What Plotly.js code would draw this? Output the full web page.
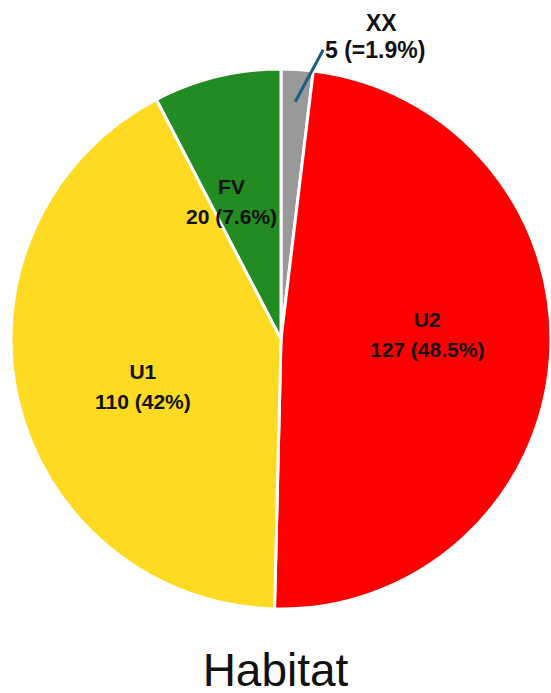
<!DOCTYPE html>
<html>
<head>
<meta charset="utf-8">
<script src="https://cdn.plot.ly/plotly-3.0.1.min.js"></script>
<style>html,body{margin:0;padding:0;background:#fff;}</style>
</head>
<body>
<div id="chart" style="width:551px;height:693px;"></div>
<script>
const categories = ['XX', 'U2', 'U1', 'FV'];
const counts = [5, 127, 110, 20];
const percentLabels = ['=1.9%', '48.5%', '42%', '7.6%'];
const sliceColors = ['#999999', '#FF0000', '#FEDA22', '#228B22'];
const chartTitle = 'Habitat';

const W = 551, H = 693;
const M = {l: 11, r: 0, t: 68, b: 83};
const plotW = W - M.l - M.r, plotH = H - M.t - M.b;
const R = Math.min(plotW, plotH) / 2;
const FONT = 'Liberation Sans, Arial, sans-serif';

const sp = (s, fs) => '<span style="font-size:' + fs + 'px">' + s + '</span>';
const total = counts.reduce((a, b) => a + b, 0);

// point at a given radius fraction near the mid-angle of slice i (paper coords)
function slicePoint(i, rf, angleOffsetDeg) {
  let before = 0;
  for (let k = 0; k < i; k++) before += counts[k];
  const theta = 2 * Math.PI * (before + counts[i] / 2) / total + (angleOffsetDeg || 0) * Math.PI / 180;
  const r = rf * R;
  return {x: 0.5 + r * Math.sin(theta) / plotW, y: 0.5 + r * Math.cos(theta) / plotH};
}

const data = [{
  type: 'pie',
  values: counts,
  labels: categories,
  textinfo: 'none',
  sort: false,
  direction: 'clockwise',
  rotation: 0,
  marker: {colors: sliceColors, line: {color: '#ffffff', width: 3}},
  hoverinfo: 'label+value+percent',
  showlegend: false
}];

const annotations = [];
// inside labels for U2, U1, FV
for (let i = 1; i < categories.length; i++) {
  const p = slicePoint(i, 0.54, -6);
  annotations.push({
    xref: 'paper', yref: 'paper', x: p.x, y: p.y,
    text: sp(categories[i], 21) + '<br>' + sp(counts[i] + ' (' + percentLabels[i] + ')', 21),
    showarrow: false, xanchor: 'center', yanchor: 'middle',
    font: {family: FONT, size: 23, color: '#111', weight: 'bold'}
  });
}
// XX label with leader line
const h = slicePoint(0, 0.88, 0);
const annFont = {family: FONT, size: 23, color: '#111', weight: 'bold'};
annotations.push({
  xref: 'paper', yref: 'paper', x: h.x, y: h.y,
  text: counts[0] + ' (' + percentLabels[0] + ')',
  showarrow: true, arrowhead: 0, arrowwidth: 3, arrowcolor: '#1B5E7E',
  ax: 28, ay: -52, xanchor: 'left', yanchor: 'middle',
  font: annFont
});
annotations.push({
  xref: 'paper', yref: 'paper', x: h.x, y: h.y,
  text: categories[0],
  showarrow: false,
  xshift: 86, yshift: 94,
  font: annFont
});

const layout = {
  width: W, height: H,
  margin: M,
  paper_bgcolor: '#ffffff',
  showlegend: false,
  title: {
    text: chartTitle,
    font: {family: FONT, size: 46, color: '#111'},
    x: 0.5, xanchor: 'center',
    y: 0.01, yanchor: 'bottom', yref: 'container',
    pad: {b: 0}
  },
  annotations: annotations
};

Plotly.newPlot('chart', data, layout, {displayModeBar: false, staticPlot: true});
</script>
</body>
</html>
